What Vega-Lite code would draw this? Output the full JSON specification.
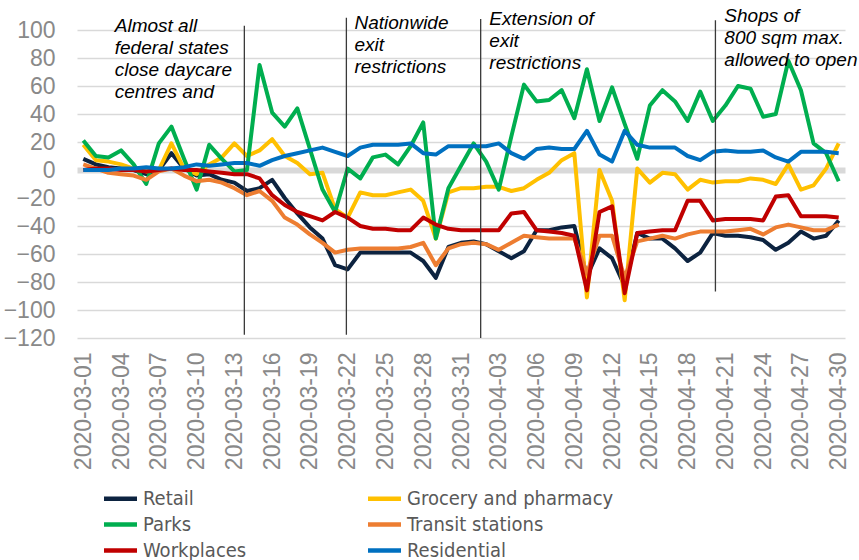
{
  "$schema": "https://vega.github.io/schema/vega-lite/v6.json",
  "width": 768,
  "height": 308,
  "autosize": {"type": "none"},
  "padding": {"left": 77, "top": 30, "right": 14, "bottom": 222},
  "background": "white",
  "config": {
    "view": {"stroke": null},
    "font": "Liberation Sans",
    "axis": {"labelOverlap": false, "labelFont": "Liberation Sans", "labelColor": "#898989", "labelFontSize": 23, "title": null}
  },
  "datasets": {
    "mobility": [
      {"date":"2020-03-01","Retail":8,"Grocery and pharmacy":18,"Parks":21,"Transit stations":4,"Workplaces":0,"Residential":0},
      {"date":"2020-03-02","Retail":4,"Grocery and pharmacy":7,"Parks":10,"Transit stations":1,"Workplaces":1,"Residential":0},
      {"date":"2020-03-03","Retail":2,"Grocery and pharmacy":6,"Parks":9,"Transit stations":-2,"Workplaces":1,"Residential":0},
      {"date":"2020-03-04","Retail":1,"Grocery and pharmacy":4,"Parks":14,"Transit stations":-3,"Workplaces":0,"Residential":1},
      {"date":"2020-03-05","Retail":0,"Grocery and pharmacy":1,"Parks":4,"Transit stations":-4,"Workplaces":0,"Residential":1},
      {"date":"2020-03-06","Retail":-3,"Grocery and pharmacy":-1,"Parks":-10,"Transit stations":-7,"Workplaces":-1,"Residential":2},
      {"date":"2020-03-07","Retail":0,"Grocery and pharmacy":0,"Parks":19,"Transit stations":-1,"Workplaces":0,"Residential":1},
      {"date":"2020-03-08","Retail":12,"Grocery and pharmacy":19,"Parks":31,"Transit stations":1,"Workplaces":1,"Residential":1},
      {"date":"2020-03-09","Retail":1,"Grocery and pharmacy":1,"Parks":8,"Transit stations":-4,"Workplaces":0,"Residential":2},
      {"date":"2020-03-10","Retail":-4,"Grocery and pharmacy":-3,"Parks":-14,"Transit stations":-8,"Workplaces":0,"Residential":4},
      {"date":"2020-03-11","Retail":-3,"Grocery and pharmacy":4,"Parks":18,"Transit stations":-7,"Workplaces":-1,"Residential":3},
      {"date":"2020-03-12","Retail":-7,"Grocery and pharmacy":9,"Parks":8,"Transit stations":-9,"Workplaces":-2,"Residential":4},
      {"date":"2020-03-13","Retail":-9,"Grocery and pharmacy":19,"Parks":-1,"Transit stations":-13,"Workplaces":-3,"Residential":5},
      {"date":"2020-03-14","Retail":-15,"Grocery and pharmacy":10,"Parks":0,"Transit stations":-18,"Workplaces":-3,"Residential":5},
      {"date":"2020-03-15","Retail":-13,"Grocery and pharmacy":14,"Parks":75,"Transit stations":-15,"Workplaces":-6,"Residential":3},
      {"date":"2020-03-16","Retail":-7,"Grocery and pharmacy":22,"Parks":41,"Transit stations":-22,"Workplaces":-18,"Residential":7},
      {"date":"2020-03-17","Retail":-20,"Grocery and pharmacy":10,"Parks":31,"Transit stations":-34,"Workplaces":-25,"Residential":10},
      {"date":"2020-03-18","Retail":-31,"Grocery and pharmacy":5,"Parks":44,"Transit stations":-39,"Workplaces":-30,"Residential":12},
      {"date":"2020-03-19","Retail":-41,"Grocery and pharmacy":-3,"Parks":15,"Transit stations":-46,"Workplaces":-33,"Residential":14},
      {"date":"2020-03-20","Retail":-49,"Grocery and pharmacy":-2,"Parks":-14,"Transit stations":-52,"Workplaces":-36,"Residential":16},
      {"date":"2020-03-21","Retail":-68,"Grocery and pharmacy":-28,"Parks":-30,"Transit stations":-59,"Workplaces":-30,"Residential":13},
      {"date":"2020-03-22","Retail":-71,"Grocery and pharmacy":-34,"Parks":1,"Transit stations":-57,"Workplaces":-34,"Residential":10},
      {"date":"2020-03-23","Retail":-59,"Grocery and pharmacy":-16,"Parks":-6,"Transit stations":-56,"Workplaces":-40,"Residential":16},
      {"date":"2020-03-24","Retail":-59,"Grocery and pharmacy":-18,"Parks":9,"Transit stations":-56,"Workplaces":-42,"Residential":18},
      {"date":"2020-03-25","Retail":-59,"Grocery and pharmacy":-18,"Parks":11,"Transit stations":-56,"Workplaces":-42,"Residential":18},
      {"date":"2020-03-26","Retail":-59,"Grocery and pharmacy":-16,"Parks":4,"Transit stations":-56,"Workplaces":-43,"Residential":18},
      {"date":"2020-03-27","Retail":-59,"Grocery and pharmacy":-14,"Parks":17,"Transit stations":-55,"Workplaces":-43,"Residential":19},
      {"date":"2020-03-28","Retail":-65,"Grocery and pharmacy":-22,"Parks":34,"Transit stations":-52,"Workplaces":-34,"Residential":12},
      {"date":"2020-03-29","Retail":-77,"Grocery and pharmacy":-49,"Parks":-49,"Transit stations":-68,"Workplaces":-39,"Residential":11},
      {"date":"2020-03-30","Retail":-55,"Grocery and pharmacy":-16,"Parks":-13,"Transit stations":-56,"Workplaces":-42,"Residential":17},
      {"date":"2020-03-31","Retail":-52,"Grocery and pharmacy":-13,"Parks":3,"Transit stations":-53,"Workplaces":-43,"Residential":17},
      {"date":"2020-04-01","Retail":-51,"Grocery and pharmacy":-13,"Parks":19,"Transit stations":-52,"Workplaces":-43,"Residential":17},
      {"date":"2020-04-02","Retail":-53,"Grocery and pharmacy":-12,"Parks":6,"Transit stations":-53,"Workplaces":-43,"Residential":17},
      {"date":"2020-04-03","Retail":-58,"Grocery and pharmacy":-12,"Parks":-14,"Transit stations":-57,"Workplaces":-43,"Residential":19},
      {"date":"2020-04-04","Retail":-63,"Grocery and pharmacy":-15,"Parks":24,"Transit stations":-52,"Workplaces":-31,"Residential":12},
      {"date":"2020-04-05","Retail":-58,"Grocery and pharmacy":-13,"Parks":61,"Transit stations":-47,"Workplaces":-30,"Residential":8},
      {"date":"2020-04-06","Retail":-43,"Grocery and pharmacy":-7,"Parks":49,"Transit stations":-48,"Workplaces":-43,"Residential":15},
      {"date":"2020-04-07","Retail":-43,"Grocery and pharmacy":-2,"Parks":50,"Transit stations":-49,"Workplaces":-44,"Residential":16},
      {"date":"2020-04-08","Retail":-41,"Grocery and pharmacy":7,"Parks":57,"Transit stations":-49,"Workplaces":-45,"Residential":15},
      {"date":"2020-04-09","Retail":-40,"Grocery and pharmacy":12,"Parks":37,"Transit stations":-49,"Workplaces":-47,"Residential":15},
      {"date":"2020-04-10","Retail":-76,"Grocery and pharmacy":-91,"Parks":72,"Transit stations":-74,"Workplaces":-86,"Residential":28},
      {"date":"2020-04-11","Retail":-56,"Grocery and pharmacy":0,"Parks":35,"Transit stations":-47,"Workplaces":-30,"Residential":11},
      {"date":"2020-04-12","Retail":-63,"Grocery and pharmacy":-22,"Parks":59,"Transit stations":-47,"Workplaces":-26,"Residential":6},
      {"date":"2020-04-13","Retail":-83,"Grocery and pharmacy":-93,"Parks":33,"Transit stations":-77,"Workplaces":-88,"Residential":28},
      {"date":"2020-04-14","Retail":-45,"Grocery and pharmacy":1,"Parks":8,"Transit stations":-51,"Workplaces":-45,"Residential":18},
      {"date":"2020-04-15","Retail":-49,"Grocery and pharmacy":-9,"Parks":46,"Transit stations":-49,"Workplaces":-44,"Residential":16},
      {"date":"2020-04-16","Retail":-49,"Grocery and pharmacy":-2,"Parks":57,"Transit stations":-47,"Workplaces":-43,"Residential":16},
      {"date":"2020-04-17","Retail":-56,"Grocery and pharmacy":-3,"Parks":49,"Transit stations":-49,"Workplaces":-43,"Residential":16},
      {"date":"2020-04-18","Retail":-65,"Grocery and pharmacy":-14,"Parks":35,"Transit stations":-46,"Workplaces":-22,"Residential":10},
      {"date":"2020-04-19","Retail":-59,"Grocery and pharmacy":-7,"Parks":56,"Transit stations":-44,"Workplaces":-22,"Residential":7},
      {"date":"2020-04-20","Retail":-45,"Grocery and pharmacy":-9,"Parks":35,"Transit stations":-44,"Workplaces":-36,"Residential":13},
      {"date":"2020-04-21","Retail":-47,"Grocery and pharmacy":-8,"Parks":46,"Transit stations":-44,"Workplaces":-35,"Residential":14},
      {"date":"2020-04-22","Retail":-47,"Grocery and pharmacy":-8,"Parks":60,"Transit stations":-43,"Workplaces":-35,"Residential":13},
      {"date":"2020-04-23","Retail":-48,"Grocery and pharmacy":-6,"Parks":58,"Transit stations":-42,"Workplaces":-35,"Residential":13},
      {"date":"2020-04-24","Retail":-50,"Grocery and pharmacy":-7,"Parks":38,"Transit stations":-46,"Workplaces":-36,"Residential":14},
      {"date":"2020-04-25","Retail":-57,"Grocery and pharmacy":-10,"Parks":40,"Transit stations":-41,"Workplaces":-19,"Residential":9},
      {"date":"2020-04-26","Retail":-52,"Grocery and pharmacy":4,"Parks":78,"Transit stations":-39,"Workplaces":-18,"Residential":6},
      {"date":"2020-04-27","Retail":-44,"Grocery and pharmacy":-14,"Parks":57,"Transit stations":-41,"Workplaces":-33,"Residential":13},
      {"date":"2020-04-28","Retail":-49,"Grocery and pharmacy":-11,"Parks":19,"Transit stations":-43,"Workplaces":-33,"Residential":13},
      {"date":"2020-04-29","Retail":-47,"Grocery and pharmacy":1,"Parks":12,"Transit stations":-43,"Workplaces":-33,"Residential":13},
      {"date":"2020-04-30","Retail":-36,"Grocery and pharmacy":19,"Parks":-8,"Transit stations":-39,"Workplaces":-34,"Residential":12}
    ],
    "events": [
      {"date":"2020-03-13T19:00:00Z","value":103,"bottom":-117.6},
      {"date":"2020-03-21T21:30:00Z","value":108.8,"bottom":-117.6},
      {"date":"2020-04-01T13:30:00Z","value":107.9,"bottom":-120},
      {"date":"2020-04-20T05:00:00Z","value":106.9,"bottom":-86.7}
    ],
    "notes": [
      {"date":"2020-03-03T12:00:00Z","value":98.6,"label":"Almost all\nfederal states\nclose daycare\ncentres and"},
      {"date":"2020-03-22T13:00:00Z","value":100.7,"label":"Nationwide\nexit\nrestrictions"},
      {"date":"2020-04-02T06:00:00Z","value":103.8,"label":"Extension of\nexit\nrestrictions"},
      {"date":"2020-04-20T22:00:00Z","value":105.4,"label":"Shops of\n800 sqm max.\nallowed to open"}
    ]
  },
  "encoding": {
    "x": {
      "field": "date", "type": "temporal", "title": null,
      "scale": {"type": "utc", "domain": [{"year": 2020, "month": 2, "date": 29, "hours": 12, "utc": true}, {"year": 2020, "month": 4, "date": 30, "hours": 12, "utc": true}]},
      "axis": {
        "values": [
          {"year": 2020, "month": 3, "date": 1, "utc": true},
          {"year": 2020, "month": 3, "date": 4, "utc": true},
          {"year": 2020, "month": 3, "date": 7, "utc": true},
          {"year": 2020, "month": 3, "date": 10, "utc": true},
          {"year": 2020, "month": 3, "date": 13, "utc": true},
          {"year": 2020, "month": 3, "date": 16, "utc": true},
          {"year": 2020, "month": 3, "date": 19, "utc": true},
          {"year": 2020, "month": 3, "date": 22, "utc": true},
          {"year": 2020, "month": 3, "date": 25, "utc": true},
          {"year": 2020, "month": 3, "date": 28, "utc": true},
          {"year": 2020, "month": 3, "date": 31, "utc": true},
          {"year": 2020, "month": 4, "date": 3, "utc": true},
          {"year": 2020, "month": 4, "date": 6, "utc": true},
          {"year": 2020, "month": 4, "date": 9, "utc": true},
          {"year": 2020, "month": 4, "date": 12, "utc": true},
          {"year": 2020, "month": 4, "date": 15, "utc": true},
          {"year": 2020, "month": 4, "date": 18, "utc": true},
          {"year": 2020, "month": 4, "date": 21, "utc": true},
          {"year": 2020, "month": 4, "date": 24, "utc": true},
          {"year": 2020, "month": 4, "date": 27, "utc": true},
          {"year": 2020, "month": 4, "date": 30, "utc": true}
        ],
        "labelExpr": "utcFormat(datum.value, '%Y-%m-%d')",
        "labelAngle": 270, "labelOverlap": false, "labelFlush": false, "labelBound": false,
        "domain": false, "ticks": false, "grid": false, "labelPadding": 14
      }
    },
    "y": {
      "field": "value", "type": "quantitative", "title": null,
      "scale": {"domain": [-120, 100], "nice": false, "zero": false},
      "axis": {
        "values": [-120, -100, -80, -60, -40, -20, 0, 20, 40, 60, 80, 100],
        "grid": true, "gridColor": "#d9d9d9",
        "gridWidth": {"condition": {"test": "datum.value === 0", "value": 6}, "value": 1.3},
        "domain": false, "ticks": false, "labelOverlap": false, "labelPadding": 22
      }
    }
  },
  "layer": [
    {
      "data": {"name": "mobility"},
      "transform": [{"fold": ["Retail", "Grocery and pharmacy", "Parks", "Transit stations", "Workplaces", "Residential"], "as": ["series", "value"]}],
      "mark": {"type": "line", "strokeWidth": 4, "strokeJoin": "round"},
      "encoding": {
        "color": {
          "field": "series", "type": "nominal",
          "scale": {
            "domain": ["Retail", "Parks", "Workplaces", "Grocery and pharmacy", "Transit stations", "Residential"],
            "range": ["#0c2340", "#00ae4f", "#c00000", "#ffc000", "#ed7d31", "#0070c0"]
          },
          "legend": {
            "orient": "none", "legendX": 30, "legendY": 455, "columns": 2, "columnPadding": 112, "rowPadding": 2,
            "symbolType": "M-1.5,0H1.5", "symbolSize": 484, "symbolStrokeWidth": 4.5,
            "labelFontSize": 20, "labelFont": "Liberation Sans Narrow, DejaVu Sans Condensed, Roboto, sans-serif",
            "labelColor": "#595959", "labelOffset": 9, "labelLimit": 400, "padding": 0, "title": null
          }
        }
      }
    },
    {
      "data": {"name": "events"},
      "mark": {"type": "rule", "color": "#3a3a3a", "strokeWidth": 1.3},
      "encoding": {"y2": {"field": "bottom"}}
    },
    {
      "data": {"name": "notes"},
      "mark": {"type": "text", "align": "left", "baseline": "alphabetic", "fontStyle": "italic", "fontSize": 19, "lineHeight": 22, "lineBreak": "\n", "color": "#000000", "font": "Liberation Sans"},
      "encoding": {"text": {"field": "label"}}
    }
  ]
}
